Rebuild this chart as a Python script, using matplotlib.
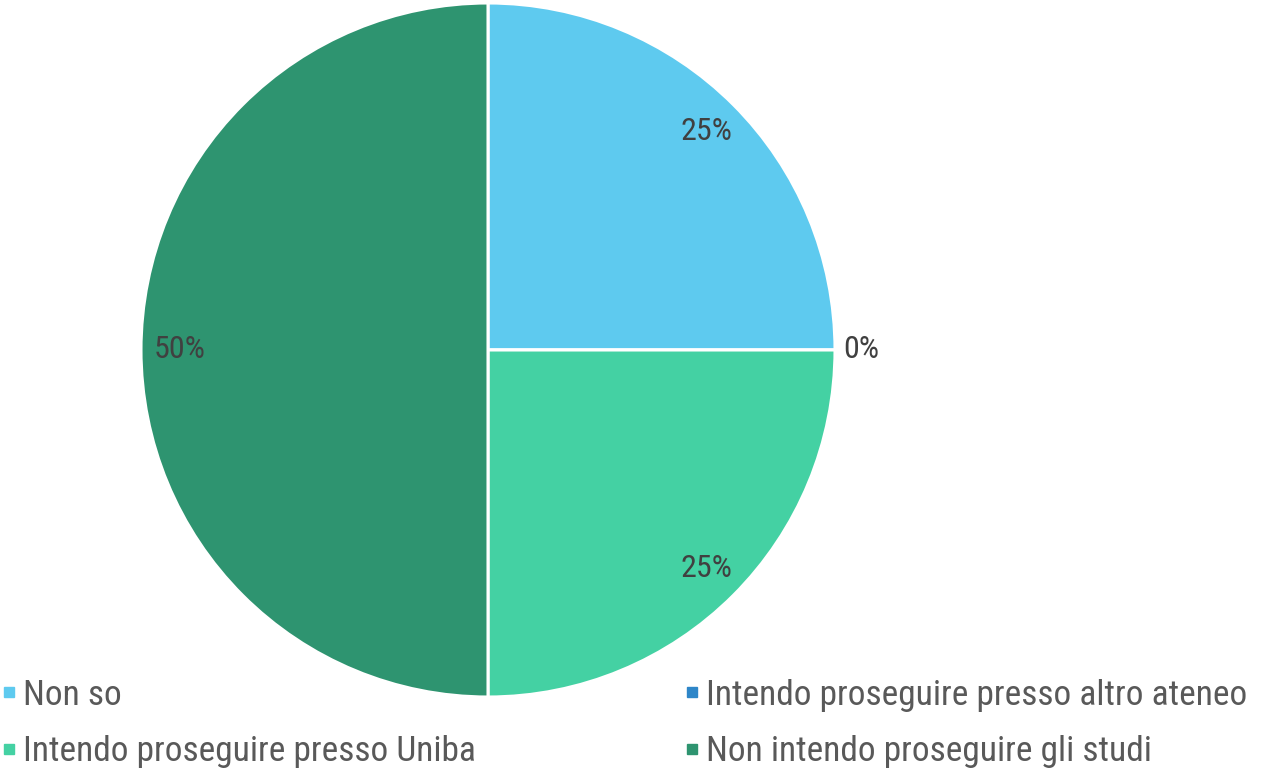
import matplotlib.pyplot as plt
import numpy as np
from matplotlib import font_manager
from matplotlib.lines import Line2D

# Dati del grafico
categorie = ["Non so", "Intendo proseguire presso altro ateneo",
             "Intendo proseguire presso Uniba", "Non intendo proseguire gli studi"]
valori = [25, 0, 25, 50]
colori = ["#5ECAEF", "#2E86C8", "#44D1A3", "#2E9470"]

# Font stretto se disponibile
disponibili = {f.name for f in font_manager.fontManager.ttflist}
famiglia = "DejaVu Sans"
for nome in ["Liberation Sans Narrow", "DejaVu Sans Condensed", "Roboto Condensed", "Open Sans Condensed"]:
    if nome in disponibili:
        famiglia = nome
        break
plt.rcParams['font.family'] = [famiglia, 'DejaVu Sans']

fig = plt.figure(figsize=(12.69, 7.72), dpi=100)
ax = fig.add_axes([(488 - 347) / 1269, (772 - 697) / 772, 694 / 1269, 694 / 772])

wedges, testi, autotesti = ax.pie(
    valori, colors=colori, startangle=90, counterclock=False,
    autopct=lambda p: f"{p:.0f}%", pctdistance=0.89,
    wedgeprops=dict(edgecolor="white", linewidth=2.2),
    textprops=dict(color="#404040", fontsize=23))
ax.set_xlim(-1, 1)
ax.set_ylim(-1, 1)
ax.set_aspect('equal')

# Etichetta della fetta vuota: fuori dal cerchio
for w, t, v in zip(wedges, autotesti, valori):
    if v == 0:
        ang = np.deg2rad((w.theta1 + w.theta2) / 2)
        t.set_position((1.075 * np.cos(ang), 1.075 * np.sin(ang)))

ordine = [0, 2, 1, 3]
maniglie = [Line2D([0], [0], marker='s', linestyle='', markersize=7,
                   markerfacecolor=colori[i], markeredgecolor=colori[i]) for i in ordine]
fig.legend(maniglie, [categorie[i] for i in ordine], ncol=2, loc='upper left',
           bbox_to_anchor=(0.0, 0.123), frameon=False, fontsize=25.5,
           labelcolor="#595959", handlelength=0.4, handletextpad=0.2,
           columnspacing=5.9, labelspacing=0.66, borderaxespad=0, borderpad=0.05)

fig.savefig("out.png", dpi=100)
